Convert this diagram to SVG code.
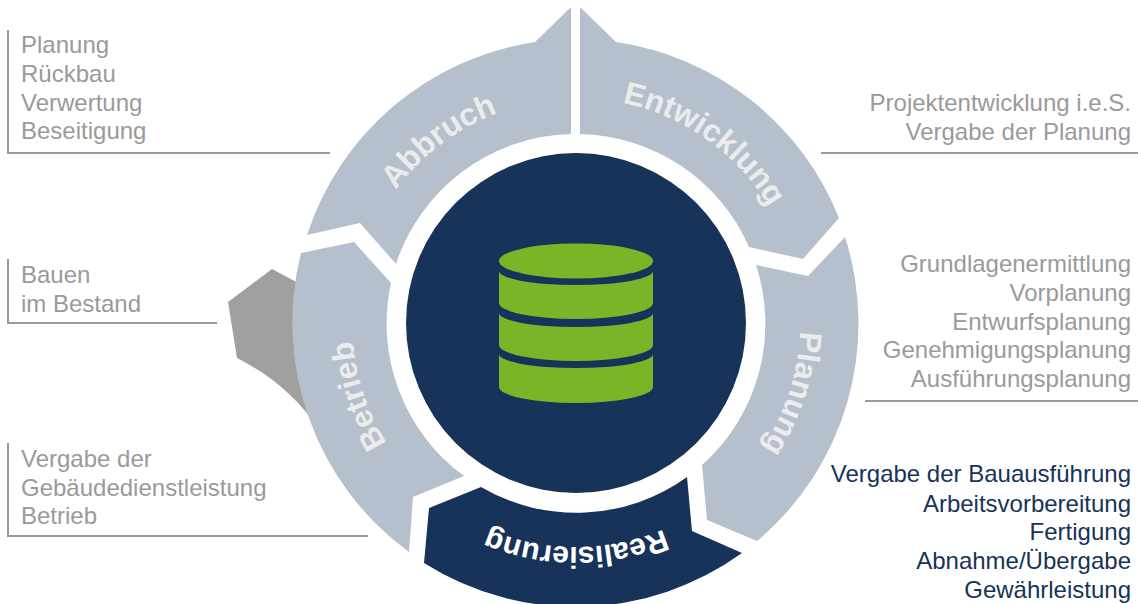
<svg xmlns="http://www.w3.org/2000/svg" width="1138" height="604" viewBox="0 0 1138 604">
<style>
.seg{fill:#b6c0cc}
.dark{fill:#17335a}
.lbl{font-family:"Liberation Sans",Arial,sans-serif;font-size:24px;fill:#9a9a9a}
.blue{fill:#17335a}
.end{text-anchor:end}
.arc{font-family:"Liberation Sans",Arial,sans-serif;font-size:31.500px;font-weight:bold;fill:#ececec;text-anchor:middle}
.rule{fill:none;stroke:#9a9a9a;stroke-width:2}
.green{fill:#78b628}
</style>
<defs>
<path id="pAbb" d="M352.300 311.300A224 224 0 0 1 626.400 104.700"/>
<path id="pEntw" d="M483 118.700A224 224 0 0 1 799.800 344"/>
<path id="pPlan" d="M766 204.300A224 224 0 0 1 659.900 530.700"/>
<path id="pReal" d="M770 435A224 224 0 0 1 382 435"/>
<path id="pBetr" d="M493.900 531.400A224 224 0 0 1 385 206"/>
</defs>
<rect width="1138" height="604" fill="#fff"/>
<path id="shadow" d="M272 269L300 284L320 430C295 395 270 375 237 358L228 302Z" fill="#a0a09e"/>
<g id="connectors">
<path class="rule" d="M8 30V153H330"/>
<path class="rule" d="M8 259V323H217"/>
<path class="rule" d="M8 443V536H368"/>
<path class="rule" d="M821 153H1138"/>
<path class="rule" d="M865 401H1138"/>
</g>
<g id="abbruch">
<path class="seg" d="M571 7L535 42A284 284 0 0 0 307 235L360 223L396 264A189 189 0 0 1 571 134Z"/>
<text class="arc"><textPath href="#pAbb" startOffset="50%">Abbruch</textPath></text>
</g>
<g id="entwicklung">
<path class="seg" d="M580 7L616 42A284 284 0 0 1 839 218L803 259L749 247A189 189 0 0 0 580 134Z"/>
<text class="arc"><textPath href="#pEntw" startOffset="50%">Entwicklung</textPath></text>
</g>
<g id="planung">
<path class="seg" d="M845 237A284 284 0 0 1 757 541L707 520L702 465A189 189 0 0 0 756 265L808 276Z"/>
<text class="arc"><textPath href="#pPlan" startOffset="50%">Planung</textPath></text>
</g>
<g id="realisierung">
<path class="dark" d="M429 508L481 487A189 189 0 0 0 687 477L692 531L742 553A284 284 0 0 1 424 563Z"/>
<text class="arc" style="fill:#fff;font-size:30px"><textPath href="#pReal" startOffset="50%">Realisierung</textPath></text>
</g>
<g id="betrieb">
<path class="seg" d="M301 253L354 242L391 283A189 189 0 0 0 464 476L413 497L409 552A284 284 0 0 1 301 253Z"/>
<text class="arc"><textPath href="#pBetr" startOffset="50%">Betrieb</textPath></text>
</g>
<g id="center">
<circle class="dark" cx="576" cy="323" r="170"/>
<ellipse class="green" cx="576" cy="261" rx="77" ry="17.500"/>
<path class="green" d="M499 271A77 14 0 0 0 653 271V303A77 16 0 0 1 499 303Z"/>
<path class="green" d="M499 313A77 14 0 0 0 653 313V345A77 16 0 0 1 499 345Z"/>
<path class="green" d="M499 354A77 14 0 0 0 653 354V387A77 16 0 0 1 499 387Z"/>
</g>
<g id="notes">
<text class="lbl" x="21" y="53">Planung</text>
<text class="lbl" x="21" y="82">Rückbau</text>
<text class="lbl" x="21" y="111">Verwertung</text>
<text class="lbl" x="21" y="139">Beseitigung</text>
<text class="lbl" x="21" y="283">Bauen</text>
<text class="lbl" x="21" y="312">im Bestand</text>
<text class="lbl" x="21" y="467">Vergabe der</text>
<text class="lbl" x="21" y="496">Gebäudedienstleistung</text>
<text class="lbl" x="21" y="524">Betrieb</text>
<text class="lbl end" x="1131" y="111">Projektentwicklung i.e.S.</text>
<text class="lbl end" x="1131" y="140">Vergabe der Planung</text>
<text class="lbl end" x="1131" y="272">Grundlagenermittlung</text>
<text class="lbl end" x="1131" y="301">Vorplanung</text>
<text class="lbl end" x="1131" y="330">Entwurfsplanung</text>
<text class="lbl end" x="1131" y="358">Genehmigungsplanung</text>
<text class="lbl end" x="1131" y="387">Ausführungsplanung</text>
<text class="lbl end blue" x="1131" y="482">Vergabe der Bauausführung</text>
<text class="lbl end blue" x="1131" y="512">Arbeitsvorbereitung</text>
<text class="lbl end blue" x="1131" y="540">Fertigung</text>
<text class="lbl end blue" x="1131" y="569">Abnahme/Übergabe</text>
<text class="lbl end blue" x="1131" y="598">Gewährleistung</text>
</g>
</svg>
